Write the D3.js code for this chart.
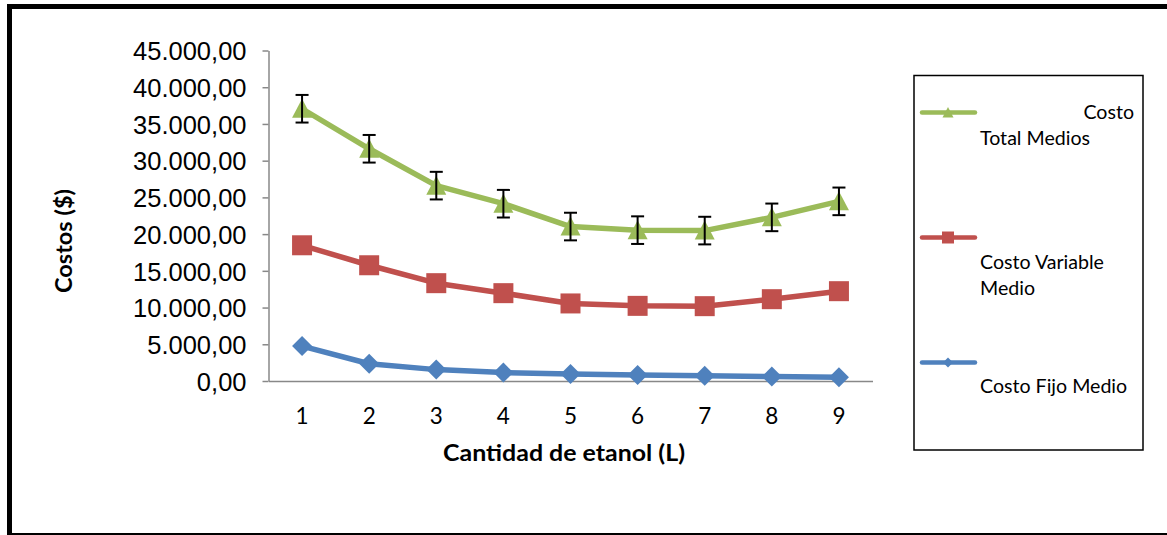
<!DOCTYPE html>
<html>
<head>
<meta charset="utf-8">
<script src="https://cdn.jsdelivr.net/npm/d3@7/dist/d3.min.js"></script>
<style>
  html, body { margin: 0; padding: 0; background: #fff; }
  svg { display: block; }
</style>
</head>
<body>
<svg id="chart" width="1167" height="535"></svg>
<script>
// Cantidad de etanol (L)
const categories = [1, 2, 3, 4, 5, 6, 7, 8, 9];

// Costos medios ($)
const costoTotalMedios = [37070, 31620, 26600, 24140, 21030, 20540, 20480, 22280, 24460];
const costoVariableMedio = [18480, 15760, 13320, 11960, 10560, 10230, 10190, 11140, 12230];
const costoFijoMedio = [4750, 2350, 1550, 1150, 950, 800, 700, 600, 520];

// Error bar amount (+/-) on the total series
const errorTotal = 1880;

// Y axis tick values
const yTicks = [0, 5000, 10000, 15000, 20000, 25000, 30000, 35000, 40000, 45000];

const legendNames = ["Costo Total Medios", "Costo Variable Medio", "Costo Fijo Medio"];

const svg = d3.select("#chart");

// Outer frame
svg.append("rect")
  .attr("x", 9.5).attr("y", 6.5)
  .attr("width", 1200).attr("height", 529)
  .attr("fill", "none").attr("stroke", "#000").attr("stroke-width", 5);

const plot = { left: 268.5, right: 872.5, top: 50.5, bottom: 381 };

const x = d3.scaleBand().domain(categories).range([plot.left, plot.right]);
const cx = d => x(d) + x.bandwidth() / 2;
const y = d3.scaleLinear().domain([0, 45000]).range([plot.bottom, plot.top]);

const locale = d3.formatLocale({ decimal: ",", thousands: ".", grouping: [3], currency: ["$", ""] });
const fmt = locale.format(",.2f");

const axisColor = "#888";
const textFont = "Lato, 'Open Sans', sans-serif";

// Y axis
const yAxis = svg.append("g")
  .attr("transform", `translate(${plot.left},0)`)
  .call(d3.axisLeft(y).tickValues(yTicks).tickFormat(fmt).tickSize(6).tickSizeOuter(0).tickPadding(16));
yAxis.select(".domain").attr("stroke", axisColor).attr("stroke-width", 1.5);
yAxis.selectAll(".tick line").attr("stroke", axisColor).attr("stroke-width", 1.5);
yAxis.selectAll(".tick text")
  .attr("font-family", "'Liberation Sans', Arial, sans-serif")
  .attr("font-size", 25.5)
  .attr("fill", "#000")
  .attr("dy", "0.36em");

// X axis
const xAxis = svg.append("g")
  .attr("transform", `translate(0,${plot.bottom})`)
  .call(d3.axisBottom(x).tickSize(0).tickSizeOuter(0));
xAxis.select(".domain").attr("stroke", axisColor).attr("stroke-width", 1.5);
xAxis.selectAll(".tick text")
  .attr("font-family", textFont)
  .attr("font-size", 22.5)
  .attr("fill", "#000")
  .attr("y", 43).attr("dy", 0);

// Axis titles
svg.append("text")
  .attr("x", 564).attr("y", 461)
  .attr("text-anchor", "middle")
  .attr("font-family", textFont)
  .attr("font-weight", "bold").attr("font-size", 23)
  .attr("textLength", 242).attr("lengthAdjust", "spacingAndGlyphs")
  .text("Cantidad de etanol (L)");

svg.append("text")
  .attr("transform", "translate(72,241) rotate(-90)")
  .attr("text-anchor", "middle")
  .attr("font-family", textFont)
  .attr("font-weight", "bold").attr("font-size", 23)
  .attr("textLength", 104).attr("lengthAdjust", "spacingAndGlyphs")
  .text("Costos ($)");

const series = [
  { values: costoTotalMedios, color: "#9BBB59", marker: "triangle" },
  { values: costoVariableMedio, color: "#C0504D", marker: "square" },
  { values: costoFijoMedio, color: "#4F81BD", marker: "diamond" }
];

function markerPath(type, s) {
  const h = s / 2;
  if (type === "triangle") return `M0,${-h}L${h},${h * 0.9}L${-h},${h * 0.9}Z`;
  if (type === "square") return `M${-h},${-h}H${h}V${h}H${-h}Z`;
  return `M0,${-h}L${h},0L0,${h}L${-h},0Z`;
}

const line = d3.line().x((d, i) => cx(categories[i])).y(d => y(d));

// Draw from bottom series up so the total line sits on top
[...series].reverse().forEach(s => {
  const g = svg.append("g");
  g.append("path")
    .attr("d", line(s.values))
    .attr("fill", "none").attr("stroke", s.color)
    .attr("stroke-width", 5.5).attr("stroke-linejoin", "round");
  g.selectAll("path.m").data(s.values).join("path")
    .attr("class", "m")
    .attr("transform", (d, i) => `translate(${cx(categories[i])},${y(d)})`)
    .attr("d", markerPath(s.marker, 20))
    .attr("fill", s.color);
});

// Error bars on the total series
const eb = svg.append("g").attr("stroke", "#000").attr("stroke-width", 2);
costoTotalMedios.forEach((v, i) => {
  const xc = cx(categories[i]);
  const yt = y(v + errorTotal), yb = y(v - errorTotal);
  eb.append("line").attr("x1", xc).attr("x2", xc).attr("y1", yt).attr("y2", yb);
  eb.append("line").attr("x1", xc - 6.5).attr("x2", xc + 6.5).attr("y1", yt).attr("y2", yt);
  eb.append("line").attr("x1", xc - 6.5).attr("x2", xc + 6.5).attr("y1", yb).attr("y2", yb);
});

// Legend
svg.append("rect")
  .attr("x", 914).attr("y", 75.5).attr("width", 229).attr("height", 374.5)
  .attr("fill", "none").attr("stroke", "#000").attr("stroke-width", 1.5);

const legendRows = [
  { y: 112.5, s: series[0], lines: [{ t: "Costo", x: 1134, y: 119, anchor: "end" }, { t: "Total Medios", x: 980, y: 145, anchor: "start" }] },
  { y: 237.5, s: series[1], lines: [{ t: "Costo Variable", x: 980, y: 269, anchor: "start" }, { t: "Medio", x: 980, y: 295, anchor: "start" }] },
  { y: 362.5, s: series[2], lines: [{ t: "Costo Fijo Medio", x: 980, y: 393, anchor: "start" }] }
];
legendRows.forEach((r, k) => {
  const g = svg.append("g").attr("aria-label", legendNames[k]);
  g.append("line").attr("x1", 922).attr("x2", 975).attr("y1", r.y).attr("y2", r.y)
    .attr("stroke", r.s.color).attr("stroke-width", 4.5).attr("stroke-linecap", "round");
  const size = r.s.marker === "square" ? 12 : (r.s.marker === "triangle" ? 11 : 10);
  g.append("path").attr("transform", `translate(948,${r.y})`)
    .attr("d", markerPath(r.s.marker, size)).attr("fill", r.s.color);
  r.lines.forEach(l => {
    g.append("text").attr("x", l.x).attr("y", l.y).attr("text-anchor", l.anchor)
      .attr("font-family", textFont).attr("font-size", 19.6)
      .attr("fill", "#000").text(l.t);
  });
});
</script>
</body>
</html>
